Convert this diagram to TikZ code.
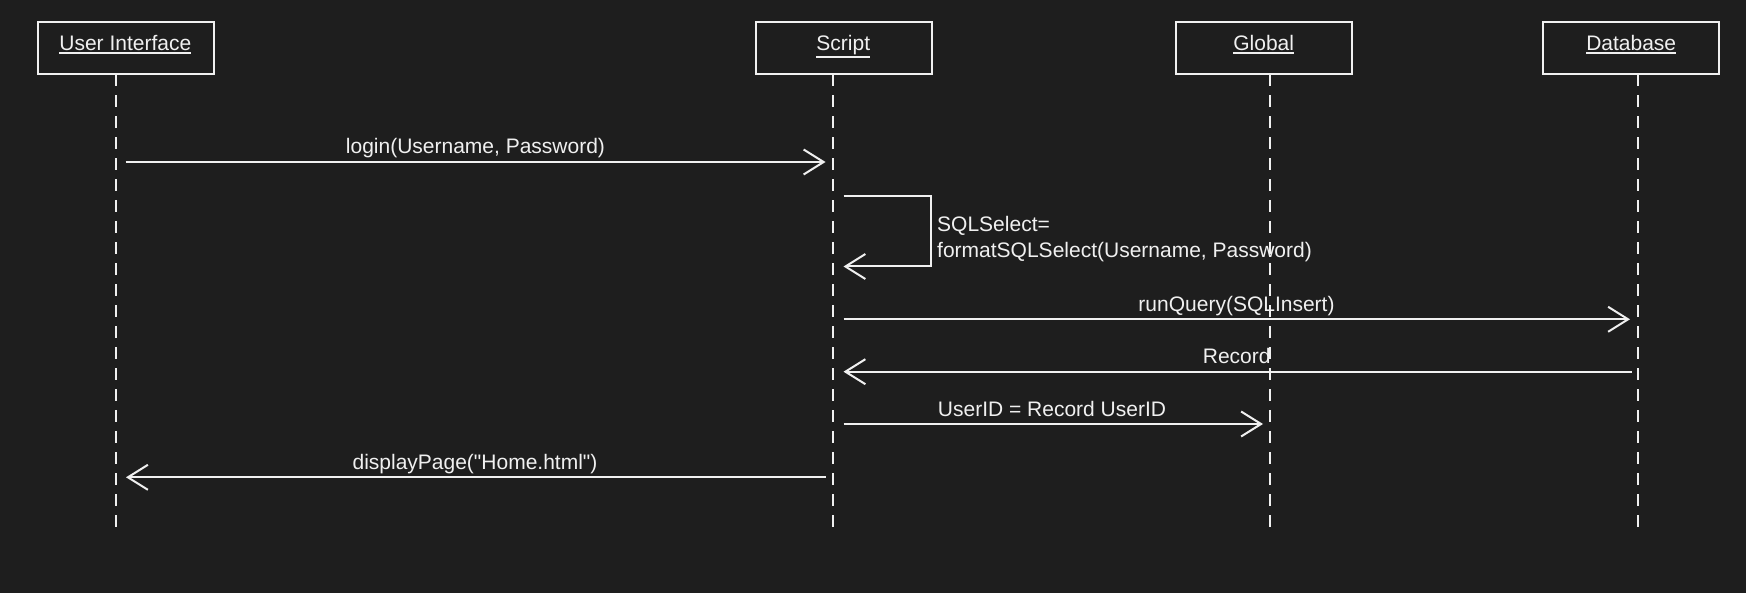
\documentclass[tikz,border=0pt]{standalone}
\usepackage{fontspec}
\setmainfont{Liberation Sans}[Ligatures=TeXOff]
\usetikzlibrary{arrows.meta,calc}
\definecolor{bg}{RGB}{30,30,30}
\definecolor{fg}{RGB}{240,240,240}
\newcommand{\ulbox}[1]{\vtop{\hbox{#1}\kern1.1pt\hrule height1.7pt}}
\tikzset{
  lifebox/.style={draw=fg, line width=2pt, minimum width=176pt, minimum height=52.6pt, inner sep=0pt},
  txt/.style={text=fg, font=\fontsize{21}{25}\selectfont, inner sep=0pt, anchor=base},
  txtl/.style={txt, anchor=base west},
  lifeline/.style={draw=fg, line width=2pt, dash pattern=on 12pt off 9pt},
  msg/.style={draw=fg, line width=2pt, -{Straight Barb[length=20pt,width=25pt]}}
}
\begin{document}
\begin{tikzpicture}[x=1pt,y=-1pt]
\fill[bg] (0,0) rectangle (1746,593);
\useasboundingbox (0,0) rectangle (1746,593);

% participant boxes
\node[lifebox] (ui) at (125.7,48) {};
\node[lifebox] (sc) at (843.7,48) {};
\node[lifebox] (gl) at (1263.7,48) {};
\node[lifebox] (db) at (1631.2,48) {};
\node[txt] (uit) at (125.3,50.7) {\ulbox{User Interface}};
\node[txt] (sct) at (843.3,50.7) {\ulbox{Script}};
\node[txt] (glt) at (1263.7,50.7) {\ulbox{Global}};
\node[txt] (dbt) at (1631.2,50.7) {\ulbox{Database}};

% lifeline coordinates
\coordinate (uiA) at (115.7,74.3);  \coordinate (uiB) at (115.7,528);
\coordinate (scA) at (833.3,74.3);  \coordinate (scB) at (833.3,528);
\coordinate (glA) at (1270,74.3);   \coordinate (glB) at (1270,528);
\coordinate (dbA) at (1638.3,74.3); \coordinate (dbB) at (1638.3,528);

% message end points
\coordinate (m1a) at (125.7,162);   \coordinate (m1b) at (825.5,162);
\coordinate (m2a) at (843.5,196.5); \coordinate (m2c) at (931,196.5);
\coordinate (m2d) at (931,266.5);   \coordinate (m2b) at (843.5,266.5);
\coordinate (m3a) at (843.5,319.3); \coordinate (m3b) at (1630,319.3);
\coordinate (m4a) at (1631.5,371.7);\coordinate (m4b) at (843.5,371.7);
\coordinate (m5a) at (843.5,424);   \coordinate (m5b) at (1263,424);
\coordinate (m6a) at (825.5,477.3); \coordinate (m6b) at (126,477.3);

% messages
\draw[msg] (m1a) -- (m1b);
\node[txt] (l1) at (475.5,154) {login(Username, Password)};

\draw[msg] (m2a) -- (m2c) -- (m2d) -- (m2b);
\node[txtl] (l2a) at (937,231.7) {SQLSelect=};
\node[txtl] (l2b) at (937,257.3) {formatSQLSelect(Username, Password)};

\draw[msg] (m3a) -- (m3b);
\node[txt] (l3) at (1236.5,311.5) {runQuery(SQLInsert)};

\draw[msg] (m4a) -- (m4b);
\node[txt] (l4) at (1236.7,363.5) {Record};

\draw[msg] (m5a) -- (m5b);
\node[txt] (l5) at (1052,416.5) {UserID = Record UserID};

\draw[msg] (m6a) -- (m6b);
\node[txt] (l6) at (475,469.5) {displayPage("Home.html")};

% lifelines
\draw[lifeline] (uiA) -- (uiB);
\draw[lifeline] (scA) -- (scB);
\draw[lifeline] (glA) -- (glB);
\draw[lifeline] (dbA) -- (dbB);
\end{tikzpicture}
\end{document}
